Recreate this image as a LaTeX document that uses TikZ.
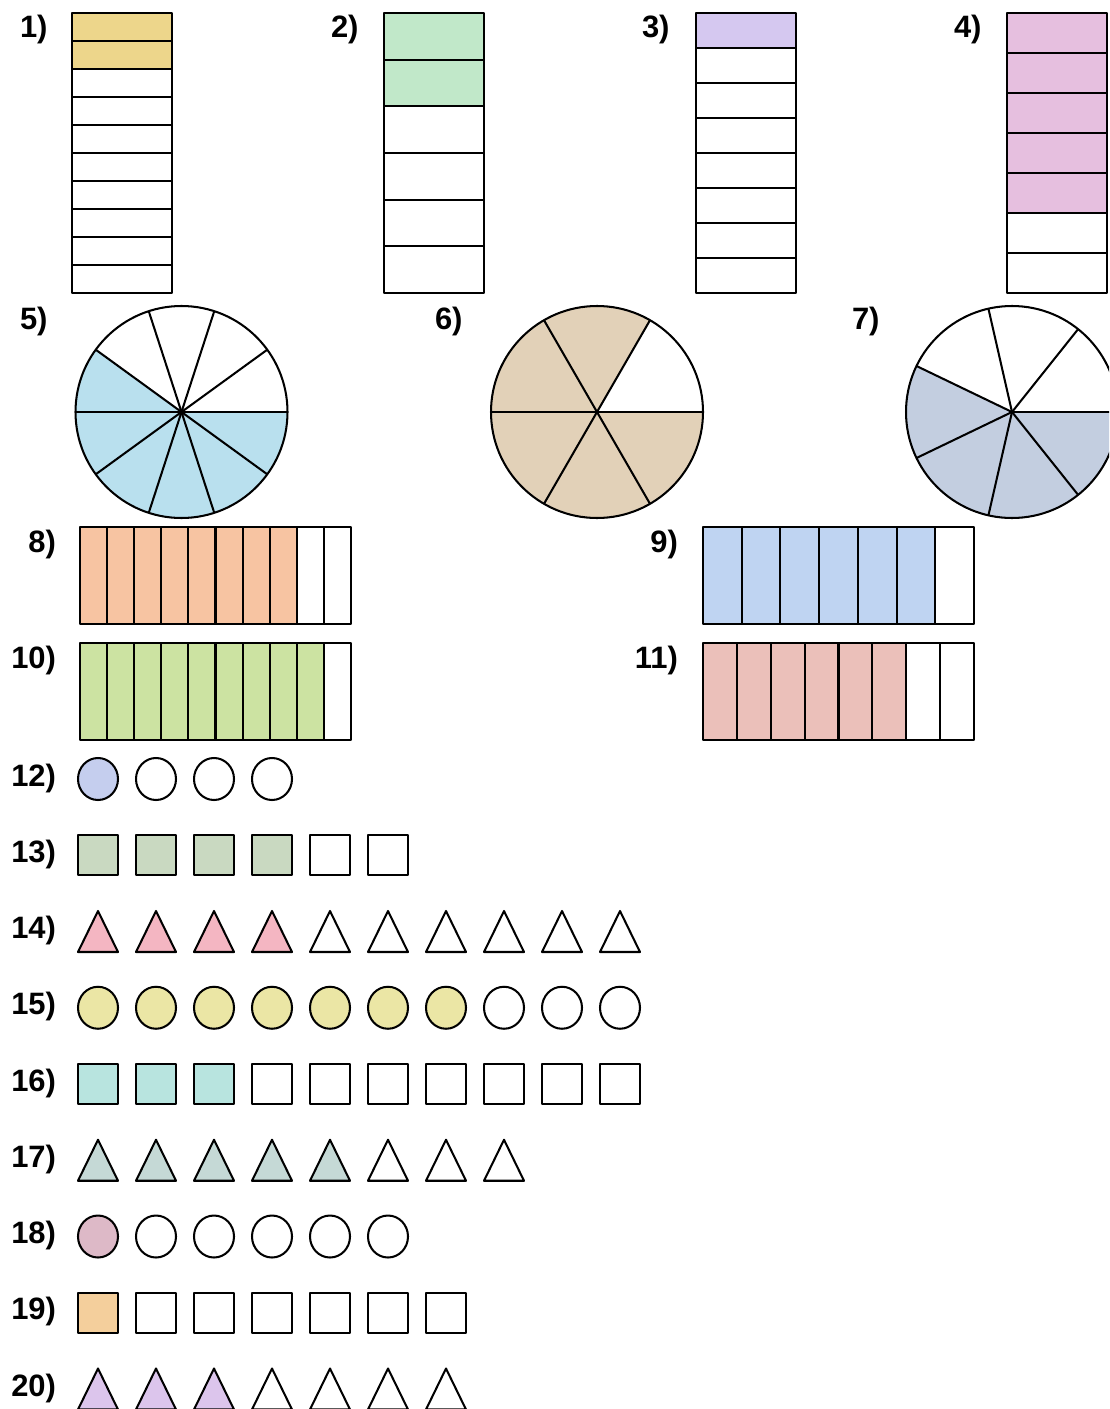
\documentclass[tikz,border=0pt]{standalone}
\usepackage{fontspec}
\setmainfont{Liberation Sans}
\definecolor{sandy}{HTML}{EDD68B}
\definecolor{mint}{HTML}{C1E8C9}
\definecolor{lilac}{HTML}{D5C8F0}
\definecolor{orchid}{HTML}{E6BFDF}
\definecolor{sky}{HTML}{B9E0EE}
\definecolor{tan}{HTML}{E2D1B8}
\definecolor{slate}{HTML}{C3CEE0}
\definecolor{peach}{HTML}{F7C4A2}
\definecolor{cornflower}{HTML}{BFD4F2}
\definecolor{lime}{HTML}{CCE3A2}
\definecolor{rose}{HTML}{EBC0BA}
\definecolor{periwinkle}{HTML}{C5CEEE}
\definecolor{sage}{HTML}{C9D9C1}
\definecolor{blush}{HTML}{F4B6C2}
\definecolor{straw}{HTML}{EBE6A5}
\definecolor{aqua}{HTML}{B8E4DF}
\definecolor{seafoam}{HTML}{C5D9D6}
\definecolor{mauve}{HTML}{DDB9C7}
\definecolor{apricot}{HTML}{F4CF9C}
\definecolor{heather}{HTML}{DCC5EC}
\newcommand{\vstrip}[4]{
\fill[#4] (#1,13) rectangle ({#1+100},{13+280*#3/#2});
\foreach \i in {1,...,#2} \draw ({#1},{13+280*(\i-1)/#2}) rectangle ({#1+100},{13+280*\i/#2});
}
\newcommand{\hstrip}[5]{
\fill[#5] (#1,#2) rectangle ({#1+271*#4/#3},{#2+97});
\foreach \i in {1,...,#3} \draw ({#1+271*(\i-1)/#3},#2) rectangle ({#1+271*\i/#3},{#2+97});
}
\newcommand{\pie}[4]{
\begin{scope}[shift={(#1,412)},yscale=-1]
\fill[#4] (0,0) -- ({360*(#2-#3)/#2}:106) arc ({360*(#2-#3)/#2}:360:106) -- cycle;
\foreach \i in {1,...,#2} \draw (0,0) -- ({360*\i/#2}:106);
\draw (0,0) circle (106);
\end{scope}
}
\newcommand{\dotrow}[4]{
\foreach \i in {1,...,#2}{\ifnum\i>#3\relax\def\shadecol{white}\else\def\shadecol{#4}\fi
\filldraw[fill=\shadecol] ({98+58*(\i-1)},#1) ellipse (20 and 21);}
}
\newcommand{\boxrow}[4]{
\foreach \i in {1,...,#2}{\ifnum\i>#3\relax\def\shadecol{white}\else\def\shadecol{#4}\fi
\filldraw[fill=\shadecol] ({78+58*(\i-1)},{#1-20}) rectangle ++(40,40);}
}
\newcommand{\trirow}[4]{
\foreach \i in {1,...,#2}{\ifnum\i>#3\relax\def\shadecol{white}\else\def\shadecol{#4}\fi
\filldraw[fill=\shadecol] ({78+58*(\i-1)},{#1+20.5}) -- ++(40,0) -- ++(-20,-41) -- cycle;}
}
\begin{document}
\begin{tikzpicture}[x=0.25mm,y=-0.25mm,line join=round,line width=1.45pt]
\tikzset{lab/.style={font=\fontsize{22}{26}\selectfont\bfseries,inner sep=0pt}}
\clip (0,0) rectangle (1109,1409);
\fill[white] (0,0) rectangle (1109,1409);
\node[lab,anchor=base west] (l1) at (19,38) {1)};
\node[lab,anchor=base west] (l2) at (330,38) {2)};
\node[lab,anchor=base west] (l3) at (641,38) {3)};
\node[lab,anchor=base west] (l4) at (953,38) {4)};
\vstrip{72}{10}{2}{sandy}
\vstrip{384}{6}{2}{mint}
\vstrip{696}{8}{1}{lilac}
\vstrip{1007}{7}{5}{orchid}
\node[lab,anchor=base west] (l5) at (19,329) {5)};
\node[lab,anchor=base west] (l6) at (434,329) {6)};
\node[lab,anchor=base west] (l7) at (851,329) {7)};
\pie{181.5}{10}{6}{sky}
\pie{597}{6}{5}{tan}
\pie{1012}{7}{4}{slate}
\node[lab,anchor=base east] (l8) at (57,552) {8)};
\node[lab,anchor=base east] (l9) at (679,552) {9)};
\node[lab,anchor=base east] (l10) at (57,668) {10)};
\node[lab,anchor=base east] (l11) at (679,668) {11)};
\hstrip{80}{527}{10}{8}{peach}
\hstrip{703}{527}{7}{6}{cornflower}
\hstrip{80}{643}{10}{9}{lime}
\hstrip{703}{643}{8}{6}{rose}
\foreach \n [count=\k from 0] in {12,...,20}
  \node[lab,anchor=base east] (l\n) at (57,{786+76.25*\k}) {\n)};
\dotrow{779}{4}{1}{periwinkle}
\boxrow{855.25}{6}{4}{sage}
\trirow{931.5}{10}{4}{blush}
\dotrow{1007.75}{10}{7}{straw}
\boxrow{1084}{10}{3}{aqua}
\trirow{1160.25}{8}{5}{seafoam}
\dotrow{1236.5}{6}{1}{mauve}
\boxrow{1312.75}{7}{1}{apricot}
\trirow{1389}{7}{3}{heather}
\end{tikzpicture}
\end{document}
